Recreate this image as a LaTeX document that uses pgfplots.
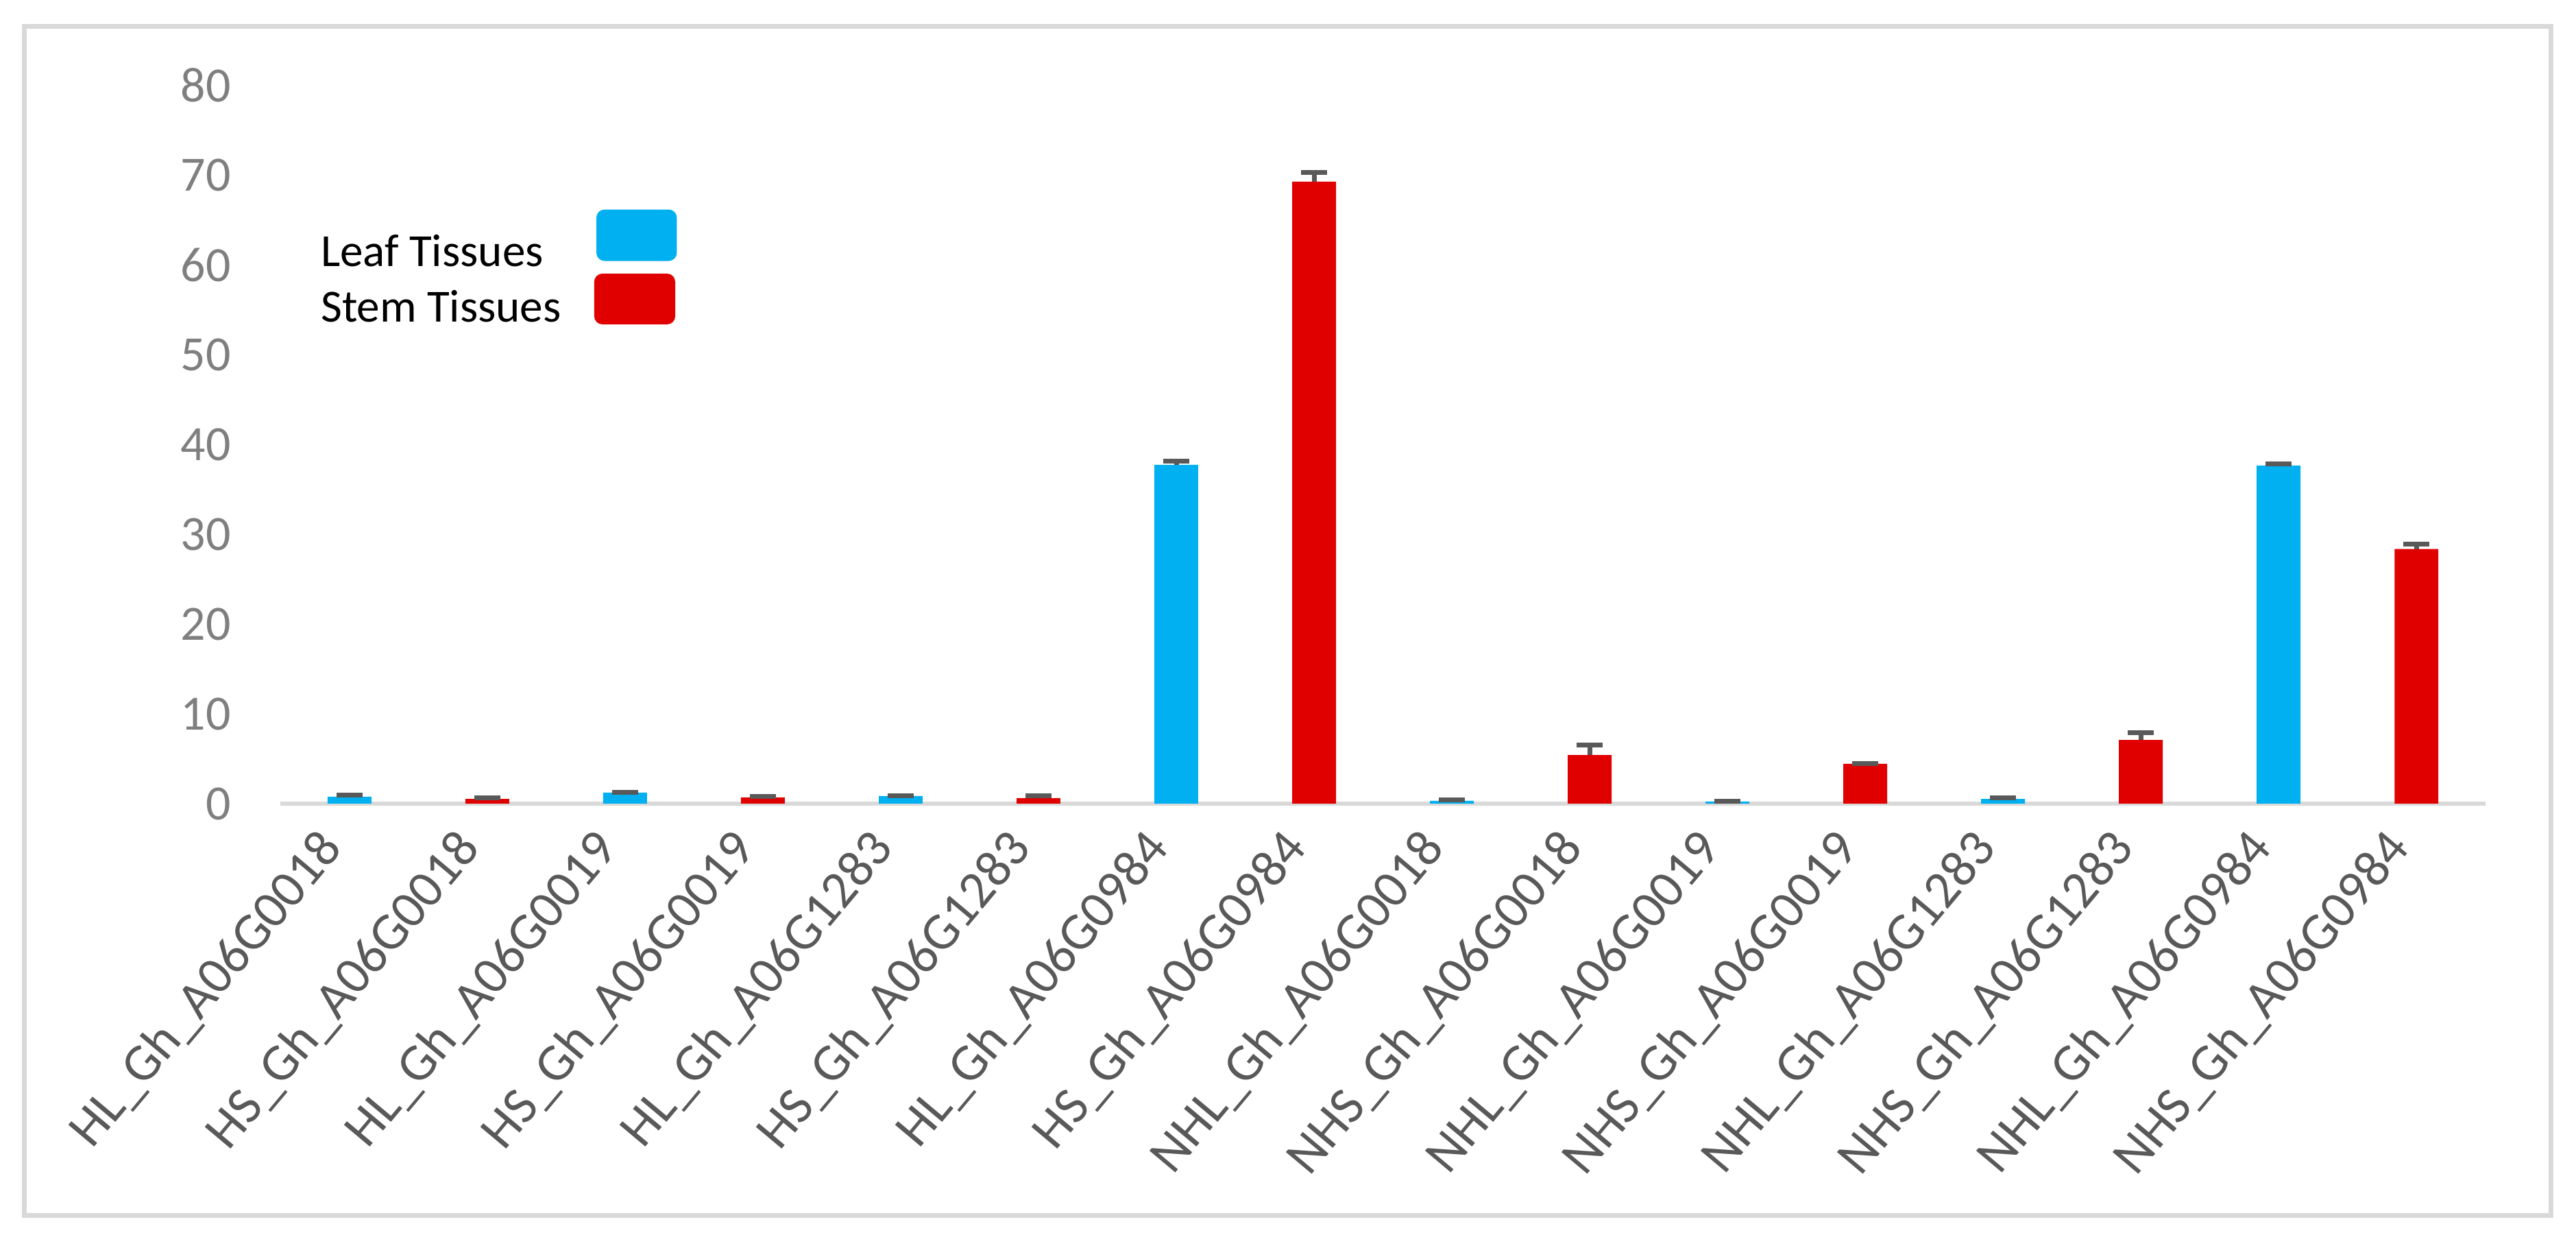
\documentclass[border=0pt]{standalone}
\usepackage{pgfplots}
\pgfplotsset{compat=1.18}
\usepackage{pgfplotstable}
\usepackage{fontspec}
\setmainfont{Carlito}
\definecolor{leafblue}{HTML}{00B0F0}
\definecolor{stemred}{HTML}{E00000}
\definecolor{errgray}{HTML}{595959}
\definecolor{labgray}{HTML}{595959}
\definecolor{ticgray}{HTML}{7F7F7F}
\definecolor{linegray}{HTML}{D9D9D9}

\pgfplotstableread{
x y err
0 0.78 0.20
2 1.22 0.07
4 0.84 0.05
6 37.74 0.42
8 0.31 0.12
10 0.23 0.05
12 0.53 0.13
14 37.66 0.15
}\leafdata
\pgfplotstableread{
x y err
1 0.53 0.13
3 0.69 0.12
5 0.61 0.28
7 69.29 1.03
9 5.42 1.13
11 4.43 0.05
13 7.10 0.82
15 28.36 0.58
}\stemdata

\begin{document}
\begin{tikzpicture}
\useasboundingbox (0,0) rectangle (784pt,379.5pt);
\draw[linegray, line width=1.46pt] (7.45pt,9.75pt) rectangle (776.35pt,371.45pt);
\begin{axis}[
  at={(85.4pt,135pt)}, anchor=south west,
  scale only axis, width=671pt, height=218.5pt,
  xmin=-0.5, xmax=15.5, ymin=0, ymax=80,
  axis x line*=bottom, axis y line*=left,
  y axis line style={draw=none},
  x axis line style={draw=linegray, line width=1.4pt, -},
  major tick length=0pt,
  ytick={0,10,...,80},
  xtick={0,...,15},
  xticklabels={HL\_Gh\_A06G0018,HS\_Gh\_A06G0018,HL\_Gh\_A06G0019,HS\_Gh\_A06G0019,HL\_Gh\_A06G1283,HS\_Gh\_A06G1283,HL\_Gh\_A06G0984,HS\_Gh\_A06G0984,NHL\_Gh\_A06G0018,NHS\_Gh\_A06G0018,NHL\_Gh\_A06G0019,NHS\_Gh\_A06G0019,NHL\_Gh\_A06G1283,NHS\_Gh\_A06G1283,NHL\_Gh\_A06G0984,NHS\_Gh\_A06G0984},
  /pgf/number format/assume math mode=true,
  yticklabel style={font=\fontsize{15}{18}\selectfont, text=ticgray, anchor=east, inner sep=0pt, xshift=-15pt},
  xticklabel style={font=\fontsize{16}{19}\selectfont, text=labgray, xshift=-5pt, yshift=-11pt, rotate=50, anchor=east, inner sep=0pt},
  ybar, bar width=0.318, bar shift=0pt,
  clip=false,
]
\addplot[fill=leafblue, draw=none,
  error bars/.cd, y dir=plus, y explicit,
  error bar style={line width=1.46pt, draw=errgray},
  error mark options={line width=1.46pt, draw=errgray, mark size=3.96pt, rotate=90}]
  table[x=x, y=y, y error=err] {\leafdata};
\addplot[fill=stemred, draw=none,
  error bars/.cd, y dir=plus, y explicit,
  error bar style={line width=1.46pt, draw=errgray},
  error mark options={line width=1.46pt, draw=errgray, mark size=3.96pt, rotate=90}]
  table[x=x, y=y, y error=err] {\stemdata};
\end{axis}
\node[anchor=base west, inner sep=0pt, font=\fontsize{14}{16}\selectfont] at (97.5pt,298.5pt) {Leaf Tissues};
\node[anchor=base west, inner sep=0pt, font=\fontsize{14}{16}\selectfont] at (97.5pt,281.5pt) {Stem Tissues};
\fill[leafblue, rounded corners=2.5pt] (181.5pt,300.1pt) rectangle (206pt,315.75pt);
\fill[stemred, rounded corners=2.5pt] (180.85pt,280.8pt) rectangle (205.5pt,296.25pt);
\end{tikzpicture}
\end{document}
